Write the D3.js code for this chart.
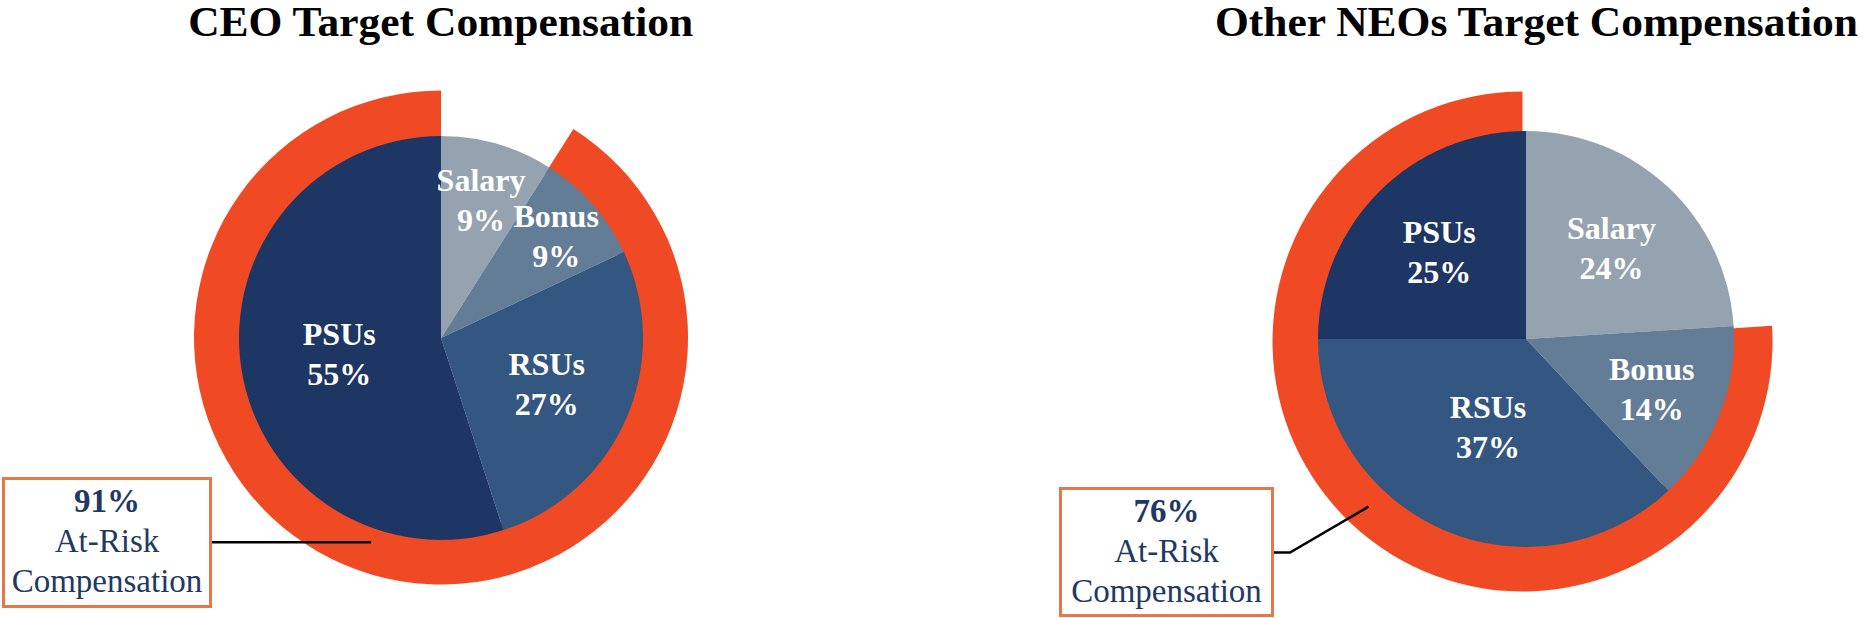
<!DOCTYPE html>
<html>
<head>
<meta charset="utf-8">
<script src="https://cdn.jsdelivr.net/npm/d3@7"></script>
<style>
  html, body { margin: 0; padding: 0; background: #ffffff; }
  svg { display: block; }
  text { font-family: "Liberation Serif", "Times New Roman", serif; }
</style>
</head>
<body>
<div id="chart"></div>
<script>
// ---------- data ----------
const categories = ["Salary", "Bonus", "RSUs", "PSUs"];
const ceoValues = [9, 9, 27, 55];
const neoValues = [24, 14, 37, 25];
const atRiskCategories = ["Bonus", "RSUs", "PSUs"];
const ceoAtRisk = 91;
const neoAtRisk = 76;
const titles = ["CEO Target Compensation", "Other NEOs Target Compensation"];
const boxLines = ["At-Risk", "Compensation"];

// ---------- styles ----------
const sliceColors = ["#95a3b1", "#637d97", "#335781", "#1e3663"];
const ringColor = "#f04a25";
const boxStroke = "#e5774a";
const boxText = "#1f3864";

const W = 1863, H = 618;
const svg = d3.select("#chart").append("svg")
  .attr("width", W).attr("height", H)
  .attr("viewBox", `0 0 ${W} ${H}`);

const charts = [
  {
    title: titles[0], titleX: 440.7, titleW: 505,
    values: ceoValues, atRisk: ceoAtRisk,
    cx: 441, cy: 338, r: 202, ringR: 247, ringDx: 0, ringDy: -0.5,
    labelF: [0.71, 0.76, 0.57, 0.51],
    box: { x: 3.5, y: 478.5, w: 207, h: 128 },
    connector: { angleDeg: 198.9, rad: 216, elbow: null }
  },
  {
    title: titles[1], titleX: 1536.5, titleW: 643,
    values: neoValues, atRisk: neoAtRisk,
    cx: 1526, cy: 339, r: 208, ringR: 250, ringDx: -3.5, ringDy: 2.5,
    labelF: [0.60, 0.65, 0.46, 0.59],
    box: { x: 1060.5, y: 488.5, w: 212, h: 127 },
    connector: { angleDeg: 223.2, rad: 230, elbow: 16 }
  }
];

charts.forEach(c => {
  // title
  svg.append("text")
    .attr("x", c.titleX).attr("y", 36)
    .attr("text-anchor", "middle")
    .attr("font-size", 42).attr("font-weight", "bold")
    .attr("fill", "#000")
    .attr("textLength", c.titleW)
    .attr("lengthAdjust", "spacingAndGlyphs")
    .text(c.title);

  const data = categories.map((k, i) => ({ key: k, value: c.values[i] }));
  const arcs = d3.pie().sort(null).value(d => d.value)(data);

  // at-risk ring (drawn beneath the pie)
  const riskArcs = arcs.filter(a => atRiskCategories.includes(a.data.key));
  const ring = d3.arc()
    .innerRadius(c.r - 8).outerRadius(c.ringR)
    .startAngle(d3.min(riskArcs, a => a.startAngle))
    .endAngle(d3.max(riskArcs, a => a.endAngle));
  svg.append("path")
    .attr("transform", `translate(${c.cx + c.ringDx},${c.cy + c.ringDy})`)
    .attr("d", ring()).attr("fill", ringColor);

  const g = svg.append("g").attr("transform", `translate(${c.cx},${c.cy})`);

  // pie slices
  const arc = d3.arc().innerRadius(0).outerRadius(c.r);
  g.selectAll("path.slice").data(arcs).join("path")
    .attr("class", "slice")
    .attr("d", arc)
    .attr("fill", (d, i) => sliceColors[i]);

  // labels
  arcs.forEach((a, i) => {
    const lr = c.r * c.labelF[i];
    const [lx, ly] = d3.arc().innerRadius(lr).outerRadius(lr).centroid(a);
    const t = g.append("text")
      .attr("text-anchor", "middle")
      .attr("font-size", 32).attr("font-weight", "bold")
      .attr("fill", "#ffffff");
    t.append("tspan").attr("x", lx).attr("y", ly - 9).text(a.data.key);
    t.append("tspan").attr("x", lx).attr("y", ly + 31).text(a.data.value + "%");
  });

  // callout box
  const b = c.box;
  svg.append("rect")
    .attr("x", b.x).attr("y", b.y).attr("width", b.w).attr("height", b.h)
    .attr("fill", "#ffffff").attr("stroke", boxStroke).attr("stroke-width", 3);
  const bx = b.x + b.w / 2;
  svg.append("text")
    .attr("x", bx).attr("y", b.y + 33.5)
    .attr("text-anchor", "middle")
    .attr("font-size", 33).attr("font-weight", "bold").attr("fill", boxText)
    .text(c.atRisk + "%");
  boxLines.forEach((s, i) => {
    svg.append("text")
      .attr("x", bx).attr("y", b.y + 73.5 + i * 40)
      .attr("text-anchor", "middle")
      .attr("font-size", 33).attr("fill", boxText)
      .text(s);
  });

  // connector
  const ang = c.connector.angleDeg * Math.PI / 180;
  const ex = c.cx + c.connector.rad * Math.sin(ang);
  const ey = c.cy - c.connector.rad * Math.cos(ang);
  const sx = b.x + b.w + 1.5;
  let pts;
  if (c.connector.elbow == null) {
    pts = [[sx, ey], [ex, ey]];
  } else {
    const sy = b.y + 64;
    pts = [[sx, sy], [sx + c.connector.elbow, sy], [ex, ey]];
  }
  svg.append("path")
    .attr("d", d3.line()(pts))
    .attr("fill", "none").attr("stroke", "#000").attr("stroke-width", 2.5);
});
</script>
</body>
</html>
